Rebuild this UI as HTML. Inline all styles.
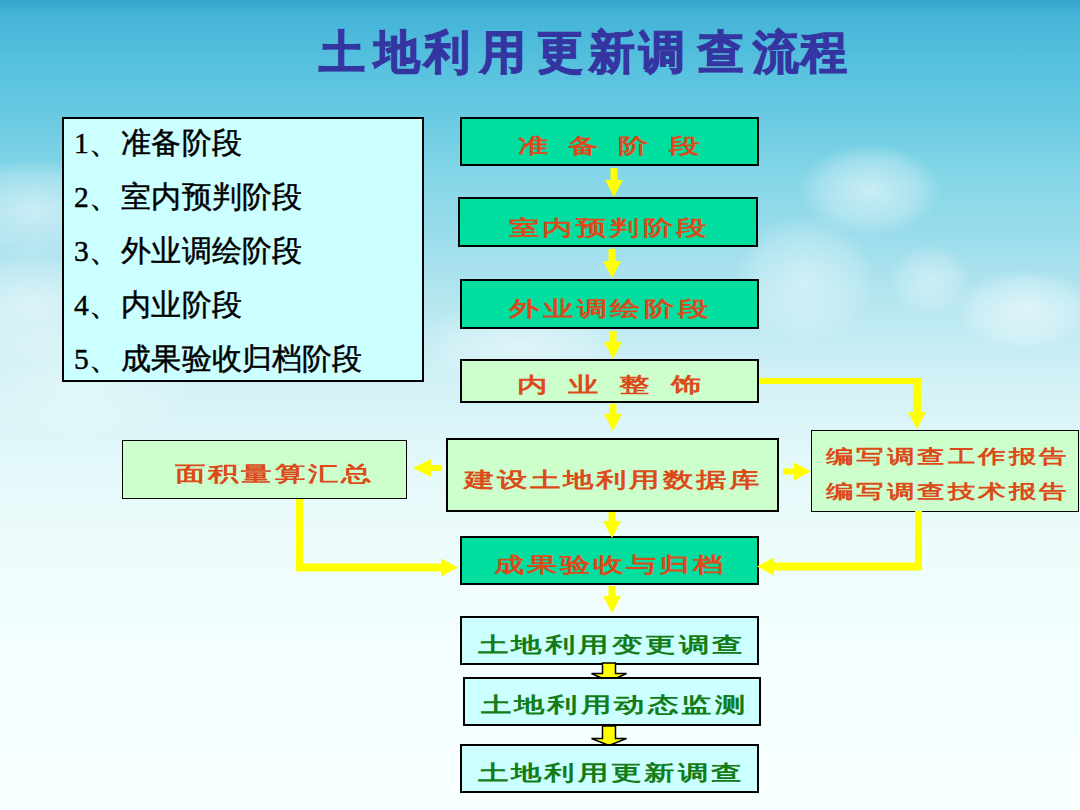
<!DOCTYPE html>
<html><head><meta charset="utf-8">
<style>
html,body{margin:0;padding:0}
body{width:1080px;height:810px;position:relative;overflow:hidden;font-family:"Liberation Serif",serif;
background:linear-gradient(180deg,#33a5c9 0px,#45b4d7 16px,#55c0de 60px,#66c9e2 110px,#82d5e7 170px,#98dceb 230px,#b5e6f0 300px,#d2f1f6 380px,#e3f8fa 460px,#effcfc 560px,#f5ffff 680px,#f8ffff 810px);}
.cl{position:absolute;border-radius:50%;background:radial-gradient(ellipse at center,rgba(255,255,255,.55) 0%,rgba(255,255,255,.25) 50%,rgba(255,255,255,0) 72%)}
.box{position:absolute;box-sizing:border-box;border:2px solid #000}
.t{position:absolute;white-space:nowrap;line-height:1}
.t span{display:inline-block;transform:scaleY(.69)}
.red{color:#dc4a1a;font-weight:700}
.grn{color:#127c16;font-weight:700}
.y{position:absolute;background:#ffff00}
.ti{top:30px;width:60px;text-align:center;font-size:46px;color:#3535a2;font-weight:900;-webkit-text-stroke:1.2px #3535a2}
i{font-style:normal;margin-right:2.4px}
b{font-weight:400}
svg{position:absolute;left:0;top:0}
</style></head><body>
<!-- clouds -->
<div class="cl" style="left:-60px;top:160px;width:190px;height:100px;opacity:.95"></div>
<div class="cl" style="left:-70px;top:245px;width:210px;height:120px;opacity:.95"></div>
<div class="cl" style="left:-40px;top:320px;width:240px;height:120px;opacity:.6"></div>
<div class="cl" style="left:420px;top:300px;width:200px;height:90px;opacity:.8"></div>
<div class="cl" style="left:800px;top:145px;width:140px;height:90px"></div>
<div class="cl" style="left:735px;top:215px;width:140px;height:130px;opacity:.8"></div>
<div class="cl" style="left:890px;top:245px;width:80px;height:70px;opacity:.7"></div>
<div class="cl" style="left:955px;top:270px;width:140px;height:80px"></div>
<!-- title -->
<div class="t ti" style="left:312.0px">土</div>
<div class="t ti" style="left:367.0px">地</div>
<div class="t ti" style="left:416.5px">利</div>
<div class="t ti" style="left:473.0px">用</div>
<div class="t ti" style="left:530.0px">更</div>
<div class="t ti" style="left:582.0px">新</div>
<div class="t ti" style="left:632.0px">调</div>
<div class="t ti" style="left:691.0px">查</div>
<div class="t ti" style="left:746.0px">流</div>
<div class="t ti" style="left:793.5px">程</div>

<!-- list box -->
<div class="box" style="left:62px;top:117px;width:362px;height:265px;background:#ccffff"></div>
<div class="t" style="left:74px;top:116px;font-size:29.5px;color:#000;line-height:54.1px;font-weight:500;letter-spacing:.1px;-webkit-text-stroke:.45px #000"><b>1</b><i>、</i>准备阶段<br><b>2</b><i>、</i>室内预判阶段<br><b>3</b><i>、</i>外业调绘阶段<br><b>4</b><i>、</i>内业阶段<br><b>5</b><i>、</i>成果验收归档阶段</div>

<!-- flow boxes -->
<div class="box" style="left:460px;top:117px;width:299px;height:49px;background:#00dfa0"></div>
<div class="box" style="left:458px;top:197px;width:300px;height:50px;background:#00dfa0"></div>
<div class="box" style="left:460px;top:279px;width:299px;height:50px;background:#00dfa0"></div>
<div class="box" style="left:460px;top:359px;width:299px;height:44px;background:#ccffcc"></div>
<div class="box" style="left:446px;top:438px;width:333px;height:74px;background:#ccffcc"></div>
<div class="box" style="left:122px;top:440px;width:285px;height:59px;background:#ccffcc;border-width:1.5px"></div>
<div class="box" style="left:811px;top:430px;width:268px;height:82px;background:#ccffcc;border-width:1.5px"></div>
<div class="box" style="left:460px;top:536px;width:299px;height:49px;background:#00dfa0"></div>
<div class="box" style="left:460px;top:616px;width:299px;height:49px;background:#ccffff"></div>

<!-- arrows -->
<svg width="1080" height="810" viewBox="0 0 1080 810">
 <g fill="#ffff00" stroke="none">
  <!-- down arrows -->
  <path d="M610.5 168 h7 v12 h5.5 l-9 17 l-9 -17 h5.5z"/>
  <path d="M608.5 249 h7 v12 h5.5 l-9 17 l-9 -17 h5.5z"/>
  <path d="M609.5 331 h7 v11 h5.5 l-9 17 l-9 -17 h5.5z"/>
  <path d="M609.5 404 h7 v10 h5.5 l-9 17 l-9 -17 h5.5z"/>
  <path d="M608.5 512 h7 v9 h5.5 l-9 17 l-9 -17 h5.5z"/>
  <path d="M608.5 586 h7 v10 h5.5 l-9 17 l-9 -17 h5.5z"/>
  <!-- left arrow to 面积 -->
  <path d="M442 465 v6 h-11 v6 l-18 -9 l18 -9 v6z"/>
  <!-- right arrow to report -->
  <path d="M783 468.5 v6 h11 v6 l17 -9 l-17 -9 v6z"/>
  <!-- box4 -> report -->
  <path d="M759 378 h162 v34 h5 l-9 17 l-9 -17 h5 v-28 h-154z"/>
  <!-- 面积 -> box6 -->
  <path d="M296 499 h7 v64.5 h138 v-5 l17 9 l-17 9 v-5 h-145z"/>
  <!-- report -> box6 -->
  <path d="M915 511 h7 v59.5 h-148 v5 l-17 -9 l17 -9 v5 h141z"/>
 </g>
 <!-- block arrows -->
 <g fill="#ffff00" stroke="#000" stroke-width="1.5">
  <path d="M602.5 663 h13 v10.5 h11 l-17.5 8 l-17.5 -8 h11z"/>
  <path d="M602.5 726 h13 v12.5 h11 l-17.5 7 l-17.5 -7 h11z"/>
 </g>
</svg>
<div class="box" style="left:463px;top:677px;width:298px;height:49px;background:#ccffff"></div>
<div class="box" style="left:460px;top:744px;width:299px;height:49px;background:#ccffff"></div>

<!-- texts in boxes -->
<div class="t red" style="left:518px;top:130px;font-size:31px;letter-spacing:19.2px"><span>准备阶段</span></div>
<div class="t red" style="left:508.5px;top:212px;font-size:31px;letter-spacing:2.5px"><span>室内预判阶段</span></div>
<div class="t red" style="left:509px;top:292.6px;font-size:31px;letter-spacing:2.8px"><span>外业调绘阶段</span></div>
<div class="t red" style="left:517px;top:369px;font-size:31px;letter-spacing:20.2px"><span>内业整饰</span></div>
<div class="t red" style="left:464px;top:463.5px;font-size:31px;letter-spacing:2.1px"><span>建设土地利用数据库</span></div>
<div class="t red" style="left:175px;top:458px;font-size:31px;letter-spacing:2.2px"><span>面积量算汇总</span></div>
<div class="t red" style="left:826px;top:442.5px;font-size:28px;letter-spacing:2.45px"><span>编写调查工作报告</span></div>
<div class="t red" style="left:826px;top:477.8px;font-size:28px;letter-spacing:2.45px"><span>编写调查技术报告</span></div>
<div class="t red" style="left:494px;top:549px;font-size:31px;letter-spacing:2.1px"><span>成果验收与归档</span></div>
<div class="t grn" style="left:477.5px;top:629.3px;font-size:31px;letter-spacing:2.55px"><span>土地利用变更调查</span></div>
<div class="t grn" style="left:480.5px;top:688.5px;font-size:31px;letter-spacing:2.45px"><span>土地利用动态监测</span></div>
<div class="t grn" style="left:477.5px;top:756.8px;font-size:31px;letter-spacing:2.35px"><span>土地利用更新调查</span></div>
</body></html>
